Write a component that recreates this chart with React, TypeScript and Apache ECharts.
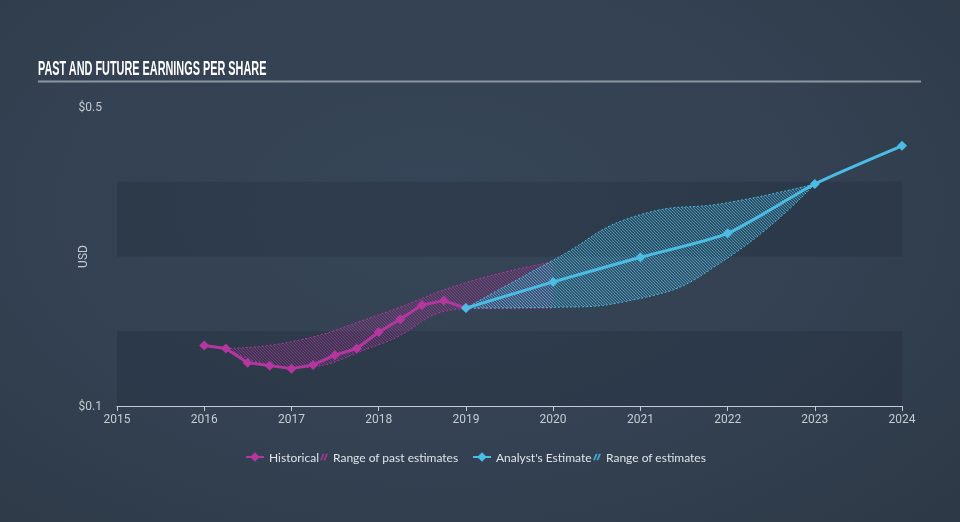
import React, { useEffect, useRef } from 'react';
import * as echarts from 'echarts';

// ---- data ----
const yearLabels = ['2015', '2016', '2017', '2018', '2019', '2020', '2021', '2022', '2023', '2024'];
const histYears = [2016, 2016.25, 2016.5, 2016.75, 2017, 2017.25, 2017.5, 2017.75, 2018, 2018.25, 2018.5, 2018.75, 2019];
const histEps = [0.181, 0.177, 0.158, 0.154, 0.150, 0.155, 0.168, 0.177, 0.199, 0.216, 0.235, 0.241, 0.231];
const estYears = [2019, 2020, 2021, 2022, 2023, 2024];
const estEps = [0.231, 0.266, 0.299, 0.331, 0.397, 0.448];
const pastRangeYears = [2016.25, 2017, 2018, 2019, 2020];
const pastLow = [0.177, 0.151, 0.182, 0.230, 0.231];
const pastHigh = [0.177, 0.186, 0.222, 0.265, 0.293];
const futRangeYears = [2019, 2020, 2021, 2022, 2023];
const futLow = [0.231, 0.232, 0.244, 0.298, 0.397];
const futHigh = [0.231, 0.295, 0.356, 0.372, 0.397];
const yLabelValues = [0.1, 0.5];

const TITLE = 'PAST AND FUTURE EARNINGS PER SHARE';
const MAGENTA = '#b4369f';
const CYAN = '#4bbde5';

// fractional year -> local timestamp (quarters map to months)
const ts = (yr: number) => {
  const y = Math.floor(yr);
  const m = Math.round((yr - y) * 12);
  return new Date(y, m, 1).getTime();
};
const pairs = (years: number[], vals: number[]) => years.map((yr, i) => [ts(yr), vals[i]]);

function hatchUrl(rgb: string, bgAlpha: number, lineAlpha: number) {
  const n = 3;
  const c = document.createElement('canvas');
  c.width = n;
  c.height = n;
  const ctx = c.getContext('2d')!;
  ctx.fillStyle = `rgba(${rgb},${bgAlpha})`;
  ctx.fillRect(0, 0, n, n);
  ctx.strokeStyle = `rgba(${rgb},${lineAlpha})`;
  ctx.lineWidth = 1;
  ctx.beginPath();
  ctx.moveTo(-1, -1);
  ctx.lineTo(n + 1, n + 1);
  ctx.moveTo(-1, n - 1);
  ctx.lineTo(1, n + 1);
  ctx.moveTo(n - 1, -1);
  ctx.lineTo(n + 1, 1);
  ctx.stroke();
  return c.toDataURL();
}

const HATCH_ICON = 'path://M0 10 L3 10 L7 0 L4 0 Z M5 10 L8 10 L12 0 L9 0 Z';

export default function App() {
  const ref = useRef<HTMLDivElement>(null);
  useEffect(() => {
    if (!ref.current) return;
    const chart = echarts.init(ref.current, undefined, { renderer: 'svg' });

    const titleFontFamily = "'Liberation Sans Narrow', 'Liberation Sans', Arial, sans-serif";
    const mctx = document.createElement('canvas').getContext('2d')!;
    mctx.font = `bold 21px ${titleFontFamily}`;
    const tw = mctx.measureText(TITLE).width || 400;
    const sx = 229 / tw;

    const pastPattern = {
      image: hatchUrl('180,54,159', 0.08, 0.6),
      repeat: 'repeat',
      imageWidth: 3,
      imageHeight: 3,
    };
    const futPattern = {
      image: hatchUrl('75,189,229', 0.16, 0.62),
      repeat: 'repeat',
      imageWidth: 3,
      imageHeight: 3,
    };

    const legendText = { color: '#dfe3e8', fontSize: 12, fontFamily: 'Lato, sans-serif' };
    const edge = (color: string) => ({ color, width: 1, type: [2, 2] as any, opacity: 0.95 });
    const YEAR = 365.25 * 24 * 3600 * 1000;
    const firstYear = Number(yearLabels[0]);
    const lastYear = Number(yearLabels[yearLabels.length - 1]);
    const LEG_TOP = 451;

    const option: any = {
      animation: false,
      backgroundColor: 'transparent',
      grid: { left: 117, right: 58, top: 107, bottom: 116, containLabel: false },
      graphic: [
        {
          type: 'text',
          x: 38,
          y: 68,
          scaleX: sx,
          style: {
            text: TITLE,
            fill: '#ffffff',
            fontSize: 21,
            fontWeight: 'bold',
            fontFamily: titleFontFamily,
            verticalAlign: 'middle',
          },
        },
        {
          type: 'line',
          shape: { x1: 38, y1: 81.5, x2: 921, y2: 81.5 },
          style: { stroke: '#8c96a1', lineWidth: 2 },
        },
      ],
      legend: [
        {
          left: 245,
          top: LEG_TOP,
          padding: 0,
          itemWidth: 18,
          itemHeight: 12,
          textStyle: legendText,
          data: [{ name: 'Historical' }],
        },
        {
          left: 320,
          top: LEG_TOP,
          padding: 0,
          itemWidth: 8,
          itemHeight: 9,
          textStyle: legendText,
          data: [{ name: 'Range of past estimates', icon: HATCH_ICON, itemStyle: { color: MAGENTA, opacity: 0.8 } }],
        },
        {
          left: 472,
          top: LEG_TOP,
          padding: 0,
          itemWidth: 18,
          itemHeight: 12,
          textStyle: legendText,
          data: [{ name: "Analyst's Estimate" }],
        },
        {
          left: 593,
          top: LEG_TOP,
          padding: 0,
          itemWidth: 8,
          itemHeight: 9,
          textStyle: legendText,
          data: [{ name: 'Range of estimates', icon: HATCH_ICON, itemStyle: { color: CYAN, opacity: 0.8 } }],
        },
      ],
      xAxis: {
        type: 'time',
        min: ts(firstYear),
        max: ts(lastYear),
        minInterval: YEAR * 0.9,
        maxInterval: YEAR * 1.1,
        axisLine: { lineStyle: { color: '#c5ccd3', width: 1 } },
        axisTick: { show: true, length: 5, lineStyle: { color: '#c5ccd3' } },
        minorTick: { show: false },
        axisLabel: {
          color: '#c6ccd2',
          fontSize: 12,
          fontFamily: 'Roboto, sans-serif',
          margin: 7,
          showMinLabel: true,
          showMaxLabel: true,
          formatter: (v: number) => {
            const d = new Date(v);
            const y = String(d.getFullYear());
            return d.getMonth() === 0 && yearLabels.includes(y) ? y : '';
          },
        },
        splitLine: { show: false },
      },
      yAxis: {
        type: 'value',
        min: 0.1,
        max: 0.5,
        interval: 0.1,
        name: 'USD',
        nameLocation: 'middle',
        nameGap: 28,
        nameMoveOverlap: false,
        nameRotate: 90,
        nameTextStyle: { color: '#c6ccd2', fontSize: 12, fontFamily: 'Roboto, sans-serif' },
        axisLine: { show: false },
        axisTick: { show: false },
        axisLabel: {
          color: '#c6ccd2',
          fontSize: 12,
          fontFamily: 'Roboto, sans-serif',
          margin: 15,
          formatter: (v: number) => {
            const hit = yLabelValues.find((t) => Math.abs(t - v) < 1e-6);
            return hit !== undefined ? '$' + hit.toFixed(1) : '';
          },
        },
        splitLine: { show: false },
        splitArea: {
          show: true,
          areaStyle: { color: ['rgba(22,32,44,0.22)', 'rgba(0,0,0,0)'] },
        },
      },
      series: [
        {
          name: 'pastLow',
          type: 'line',
          stack: 'past',
          data: pairs(pastRangeYears, pastLow),
          smooth: 0.5,
          symbol: 'none',
          lineStyle: edge(MAGENTA),
          itemStyle: { color: MAGENTA },
          silent: true,
          z: 1,
        },
        {
          name: 'Range of past estimates',
          type: 'line',
          stack: 'past',
          data: pairs(
            pastRangeYears,
            pastHigh.map((h, i) => h - pastLow[i])
          ),
          smooth: 0.5,
          symbol: 'none',
          lineStyle: edge(MAGENTA),
          itemStyle: { color: MAGENTA },
          areaStyle: { color: pastPattern, opacity: 1 },
          silent: true,
          z: 1,
        },
        {
          name: 'futLow',
          type: 'line',
          stack: 'fut',
          data: pairs(futRangeYears, futLow),
          smooth: 0.5,
          symbol: 'none',
          lineStyle: edge(CYAN),
          itemStyle: { color: CYAN },
          silent: true,
          z: 2,
        },
        {
          name: 'Range of estimates',
          type: 'line',
          stack: 'fut',
          data: pairs(
            futRangeYears,
            futHigh.map((h, i) => h - futLow[i])
          ),
          smooth: 0.5,
          symbol: 'none',
          lineStyle: edge(CYAN),
          itemStyle: { color: CYAN },
          areaStyle: { color: futPattern, opacity: 1 },
          silent: true,
          z: 2,
        },
        {
          name: 'Historical',
          type: 'line',
          data: pairs(histYears, histEps),
          symbol: 'diamond',
          symbolSize: 10,
          lineStyle: { color: MAGENTA, width: 3 },
          itemStyle: { color: MAGENTA },
          z: 5,
        },
        {
          name: "Analyst's Estimate",
          type: 'line',
          data: pairs(estYears, estEps),
          smooth: 0.2,
          symbol: 'diamond',
          symbolSize: 10,
          lineStyle: { color: CYAN, width: 3 },
          itemStyle: { color: CYAN },
          z: 6,
        },
      ],
    };
    chart.setOption(option);
    return () => chart.dispose();
  }, []);

  return (
    <div
      ref={ref}
      style={{
        position: 'fixed',
        left: 0,
        top: 0,
        width: 960,
        height: 522,
        background: 'radial-gradient(ellipse 75% 85% at 45% 40%, #364557 0%, #334152 55%, #2d3946 100%)',
      }}
    />
  );
}
